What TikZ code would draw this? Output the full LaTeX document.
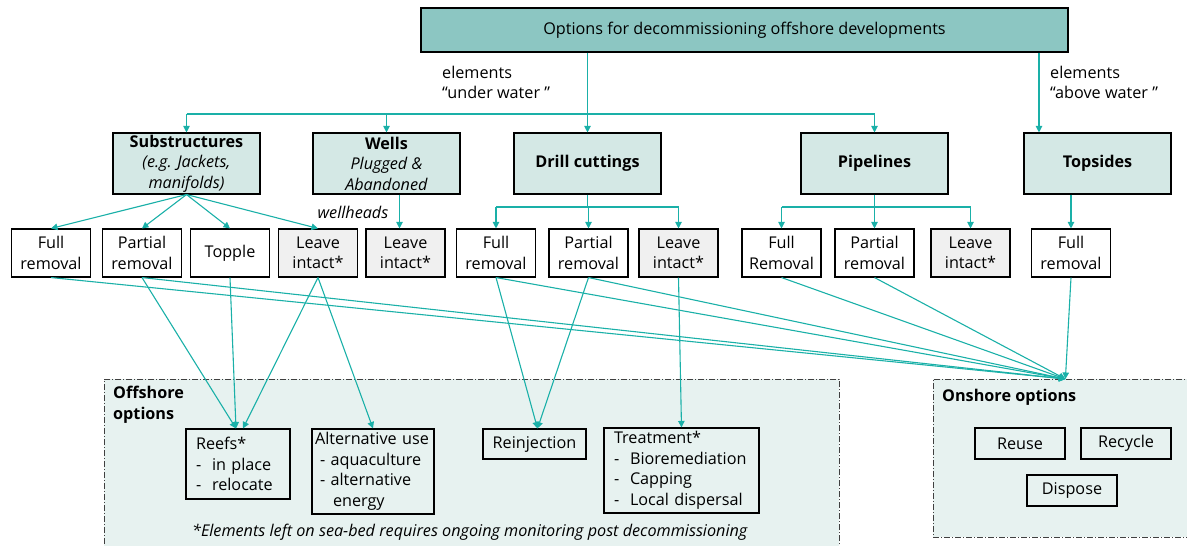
\documentclass[tikz,border=0pt]{standalone}
\usepackage{fontspec}
\setmainfont{Open Sans}
\usetikzlibrary{arrows.meta}
\definecolor{tealline}{HTML}{1AB0A8}
\definecolor{topfill}{HTML}{8CC6C2}
\definecolor{catfill}{HTML}{D4E8E5}
\definecolor{leavefill}{HTML}{F0F0F0}
\definecolor{zonefill}{HTML}{E7F2F0}
\begin{document}
\begin{tikzpicture}[x=1pt,y=-1pt,
    font=\fontsize{16.2}{20.5}\selectfont,
    box/.style={draw,line width=1.1pt,inner sep=0pt,align=center},
    arr/.style={draw=tealline,line width=1.1pt,-{Triangle[width=6.5pt,length=6.5pt]}},
    lnk/.style={draw=tealline,line width=1.1pt},
    zone/.style={draw=black!75,fill=zonefill,line width=0.8pt,inner sep=0pt,
      dash pattern=on 6pt off 2pt on 1pt off 2pt}]

  \useasboundingbox (0,0) rectangle (1187,546);

  % option areas
  \node[zone,anchor=north west,minimum width=735,minimum height=175] (offshore) at (104,379) {};
  \node[zone,anchor=north west,minimum width=260,minimum height=158] (onshore) at (933,379) {};
  \node[anchor=north west,inner sep=0pt,align=left] (offlabel) at (113,386) {\textbf{Offshore}\\\textbf{options}};
  \node[anchor=west,inner sep=0pt] (onlabel) at (942,397) {\textbf{Onshore options}};

  \node[box,fill=topfill,minimum width=647,minimum height=44] (top) at (744.5,30)
    {Options for decommissioning offshore developments};

  \node[anchor=west,inner sep=0pt,align=left] (under) at (442,82.5) {elements\\“under water ”};
  \node[anchor=west,inner sep=0pt,align=left] (above) at (1050,82.5) {elements\\“above water ”};

  \begin{scope}[every node/.style={box,fill=catfill,minimum width=147,minimum height=61}]
    \node (sub)   at (186.5,163.5) {\textbf{Substructures}\\\textit{(e.g. Jackets,}\\\textit{manifolds)}};
    \node (wells) at (386.5,163.5) {\textbf{Wells}\\\textit{Plugged \&}\\\textit{Abandoned}};
    \node (dc)    at (587.5,163.5) {\textbf{Drill cuttings}};
    \node (pipe)  at (874.5,163.5) {\textbf{Pipelines}};
    \node (tops)  at (1097.5,163.5) {\textbf{Topsides}};
  \end{scope}

  \begin{scope}[every node/.style={box,minimum width=79,minimum height=48}]
    \node (fr1) at (51,253)    {Full\\removal};
    \node (pr1) at (142,253)   {Partial\\removal};
    \node (tp1) at (230,253)   {Topple};
    \node[fill=leavefill] (li1) at (318,253) {Leave\\intact*};
    \node[fill=leavefill] (li2) at (405.5,253) {Leave\\intact*};
    \node (fr2) at (496,253)   {Full\\removal};
    \node (pr2) at (588.5,253) {Partial\\removal};
    \node[fill=leavefill] (li3) at (678.5,253) {Leave\\intact*};
    \node (fr3) at (781.5,253) {Full\\Removal};
    \node (pr3) at (874.5,253) {Partial\\removal};
    \node[fill=leavefill] (li4) at (970.5,253) {Leave\\intact*};
    \node (fr4) at (1071,253)  {Full\\removal};
  \end{scope}

  \node[inner sep=0pt] (wh) at (353,212) {\textit{wellheads}};

  % offshore and onshore outcomes
  \node[box,minimum width=104,minimum height=70,text width=84,align=left] (reefs) at (238,464)
    {Reefs*\\-\ \ in place\\-\ \ relocate};
  \node[box,minimum width=122,minimum height=85,text width=116,align=left] (alt) at (373,471.5)
    {Alternative use\\\hspace*{5pt}-\ aquaculture\\\hspace*{5pt}-\ alternative\\\hspace*{18pt}energy};
  \node[box,minimum width=103,minimum height=30] (reinj) at (534.5,444) {Reinjection};
  \node[box,minimum width=155,minimum height=85,text width=135,align=left] (treat) at (681.5,470.5)
    {Treatment*\\-\ \ Bioremediation\\-\ \ Capping\\-\ \ Local dispersal};
  \node[box,minimum width=90,minimum height=31] (reuse)   at (1020,443.5) {Reuse};
  \node[box,minimum width=90,minimum height=31] (recycle) at (1126,443.5) {Recycle};
  \node[box,minimum width=90,minimum height=31] (dispose) at (1072,490.5) {Dispose};

  \node[inner sep=0pt] (note) at (470,532)
    {\textit{*Elements left on sea-bed requires ongoing monitoring post decommissioning}};

  % from the top
  \coordinate (bus) at (0,114);
  \coordinate (abovewater) at (1039,0);
  \draw[lnk] (sub.north |- bus) -- (pipe.north |- bus);
  \draw[arr] (top.south -| dc.north) -- (dc.north);
  \foreach \n in {sub,wells,pipe}
    \draw[arr] (\n.north |- bus) -- (\n.north);
  \draw[arr] (top.south -| abovewater) -- (tops.north -| abovewater);

  % to the choices
  \foreach \n in {fr1,pr1,tp1,li1}
    \draw[arr] (sub.south) -- (\n.north);
  \draw[arr] ([xshift=-6pt]li2.north |- wells.south) -- ([xshift=-6pt]li2.north);
  \coordinate (dbus) at (0,207);
  \draw[lnk] (dc.south) -- (dc.south |- dbus);
  \draw[lnk] (fr2.north |- dbus) -- (li3.north |- dbus);
  \foreach \n in {fr2,pr2,li3}
    \draw[arr] (\n.north |- dbus) -- (\n.north);
  \draw[lnk] (pipe.south) -- (pipe.south |- dbus);
  \draw[lnk] (fr3.north |- dbus) -- (li4.north |- dbus);
  \foreach \n in {fr3,pr3,li4}
    \draw[arr] (\n.north |- dbus) -- (\n.north);
  \draw[arr] (tops.south -| fr4.north) -- (fr4.north);

  % to the outcomes
  \draw[arr] (pr1.south) -- ([xshift=-2pt]reefs.north);
  \draw[arr] (tp1.south) -- ([xshift=-2pt]reefs.north);
  \draw[arr] (li1.south) -- ([xshift=5pt]reefs.north);
  \draw[arr] (li1.south) -- (alt.north);
  \draw[arr] (fr2.south) -- ([xshift=3pt]reinj.north);
  \draw[arr] (pr2.south) -- ([xshift=3pt]reinj.north);
  \draw[arr] (li3.south) -- (treat.north);
  \foreach \n in {fr1,pr1,fr2,pr2,fr3,pr3,fr4}
    \draw[arr] (\n.south) -- ([xshift=2pt]onshore.north);

\end{tikzpicture}
\end{document}
